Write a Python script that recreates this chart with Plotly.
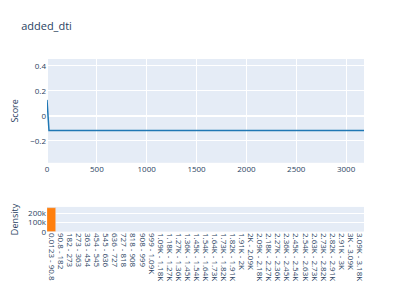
import plotly.graph_objects as go
from plotly.subplots import make_subplots

# Score line
score_x = [0.0123, 20, 3180]
score_y = [0.128, -0.118, -0.118]

# Density histogram
bin_labels = [
    "0.0123 - 90.8", "90.8 - 182", "182 - 273", "273 - 363", "363 - 454", "454 - 545",
    "545 - 636", "636 - 727", "727 - 818", "818 - 908", "908 - 999", "999 - 1.09K",
    "1.09K - 1.18K", "1.18K - 1.27K", "1.27K - 1.36K", "1.36K - 1.45K", "1.45K - 1.54K",
    "1.54K - 1.64K", "1.64K - 1.73K", "1.73K - 1.82K", "1.82K - 1.91K", "1.91K - 2K",
    "2K - 2.09K", "2.09K - 2.18K", "2.18K - 2.27K", "2.27K - 2.36K", "2.36K - 2.45K",
    "2.45K - 2.54K", "2.54K - 2.63K", "2.63K - 2.73K", "2.73K - 2.82K", "2.82K - 2.91K",
    "2.91K - 3K", "3K - 3.09K", "3.09K - 3.18K",
]
density = [255000] + [0] * (len(bin_labels) - 1)

fig = make_subplots(rows=2, cols=1, row_heights=[0.6, 0.4], vertical_spacing=0.25)
fig.add_trace(go.Scatter(x=score_x, y=score_y, mode="lines",
                         line=dict(color="#1f77b4", width=1.5), showlegend=False), row=1, col=1)
fig.add_trace(go.Bar(x=bin_labels, y=density, marker_color="#ff7f0e",
                     showlegend=False), row=2, col=1)

fig.update_layout(
    template="plotly",
    width=411, height=294,
    margin=dict(l=39, r=55, t=51, b=70, autoexpand=False),
    title=dict(text="added_dti", x=0.032, xanchor="left", y=0.939, yanchor="middle",
               font=dict(size=11)),
    font=dict(size=8),
    bargap=0,
)
fig.update_yaxes(domain=[0.4, 1.0], range=[-0.376, 0.456], tickvals=[-0.2, 0, 0.2, 0.4],
                 title=dict(text="Score", font=dict(size=9)),
                 zeroline=True, automargin=False, row=1, col=1)
fig.update_xaxes(range=[0, 3180], dtick=500, automargin=False, row=1, col=1)
fig.update_yaxes(domain=[0.0, 0.145], range=[0, 266000], tickvals=[0, 100000, 200000],
                 ticktext=["0", "100k", "200k"], title=dict(text="Density", font=dict(size=9)),
                 automargin=False, row=2, col=1)
fig.update_xaxes(tickangle=90, automargin=False, tickmode="array", tickvals=bin_labels,
                 row=2, col=1)

fig.write_html("out.html")
